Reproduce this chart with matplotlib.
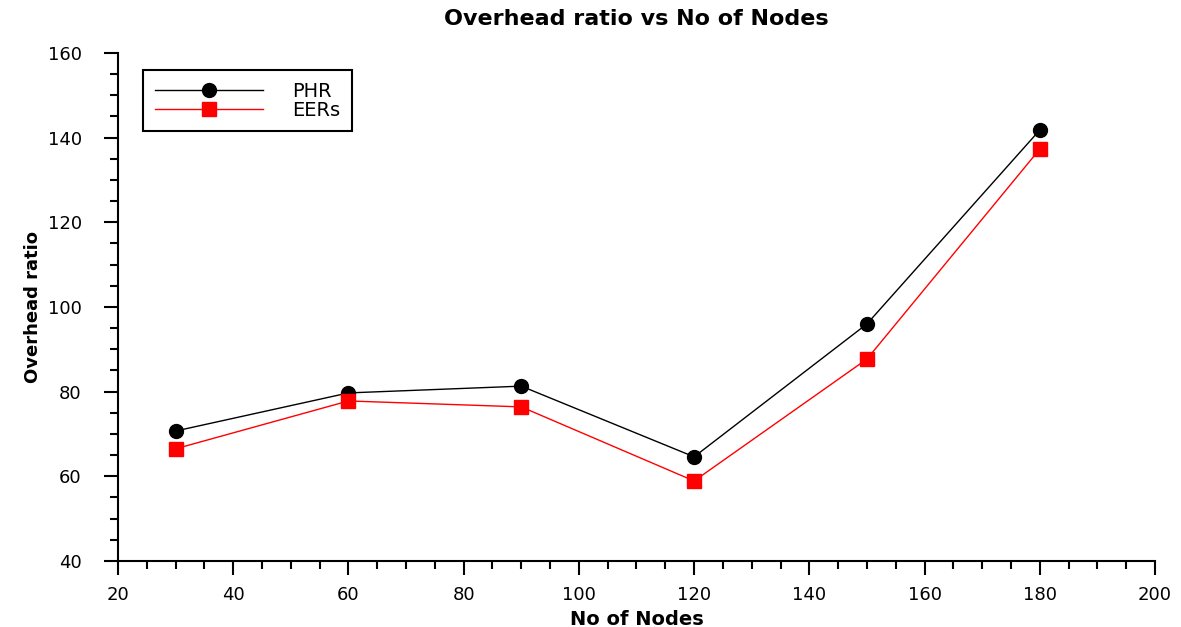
import numpy as np
import matplotlib.pyplot as plt
from matplotlib.ticker import MultipleLocator

# Datos
nodos = [30, 60, 90, 120, 150, 180]
phr = [70.7, 79.7, 81.3, 64.6, 96.0, 141.8]
eers = [66.5, 77.8, 76.4, 58.9, 87.7, 137.3]

fig = plt.figure(figsize=(11.81, 6.27), dpi=100)
ax = fig.add_axes([0.0999, 0.1053, 0.8781, 0.8102])

ax.plot(nodos, phr, color="black", linewidth=1, marker="o", markersize=10, label="PHR")
ax.plot(nodos, eers, color="red", linewidth=1, marker="s", markersize=10, label="EERs")

ax.set_xlim(20, 200)
ax.set_ylim(40, 160)
ax.xaxis.set_major_locator(MultipleLocator(20))
ax.xaxis.set_minor_locator(MultipleLocator(5))
ax.yaxis.set_major_locator(MultipleLocator(20))
ax.yaxis.set_minor_locator(MultipleLocator(5))
ax.tick_params(which="major", length=10, width=1.5, labelsize=13)
ax.tick_params(axis="y", which="major", pad=16)
ax.tick_params(axis="x", which="major", pad=8)
ax.tick_params(which="minor", length=6, width=1.5)

for lado in ["top", "right"]:
    ax.spines[lado].set_visible(False)
for lado in ["left", "bottom"]:
    ax.spines[lado].set_linewidth(1.5)

ax.set_xlabel("No of Nodes", fontsize=14, fontweight="bold", labelpad=4)
ax.set_ylabel("Overhead ratio", fontsize=13, fontweight="bold", labelpad=4)
ax.set_title("Overhead ratio vs No of Nodes", fontsize=16, fontweight="bold", pad=20)

leg = ax.legend(loc="upper left", bbox_to_anchor=(0.024, 0.9665), borderaxespad=0,
                fancybox=False, edgecolor="black", fontsize=14, handlelength=5.6,
                handletextpad=1.5, borderpad=0.6, labelspacing=0.0)
leg.get_frame().set_linewidth(1.5)
leg.get_frame().set_alpha(1)

plt.savefig("out.png", dpi=100)
